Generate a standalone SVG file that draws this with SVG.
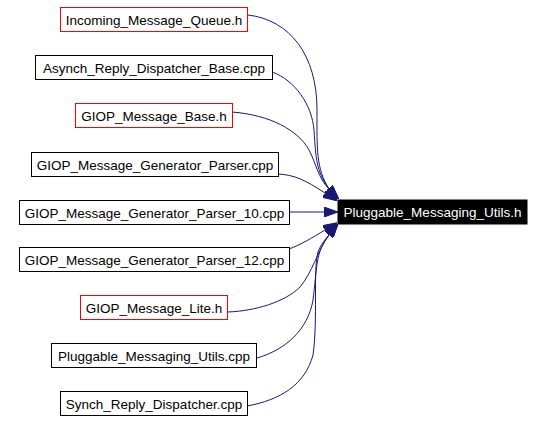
<svg xmlns="http://www.w3.org/2000/svg" width="544" height="422" viewBox="0 0 544 422">
<style>
  .box { fill: #ffffff; stroke: #000000; stroke-width: 1; }
  .red { stroke: #ff0000; }
  .lbl { font-family: "Liberation Sans", Arial, Helvetica, sans-serif; font-size: 13.5px; fill: #000000; text-anchor: middle; }
  .edge { fill: none; stroke: #191970; stroke-width: 1; marker-end: url(#arr); }
  .target { fill: #000000; stroke: #000000; }
  .tlbl { fill: #ffffff; }
</style>
<defs>
  <marker id="arr" markerUnits="userSpaceOnUse" markerWidth="14" markerHeight="10" viewBox="0 0 14 10" refX="0" refY="5" orient="auto">
    <path d="M0,0 L14,5 L0,10 z" fill="#191970" stroke="#191970"/>
  </marker>
</defs>
<rect width="544" height="422" fill="#ffffff"/>
<g id="connectors">
  <path class="edge" d="M248,15 C290,20 317,55 317,110 C317,150 316,168 329,189"/>
  <path class="edge" d="M272,72 C295,80 312,105 314,130 C316,160 316,170 329,189"/>
  <path class="edge" d="M232,112 C270,115 298,130 309,150 C316,163 318,178 329,189"/>
  <path class="edge" d="M278,174 C295,175 305,180 325,193"/>
  <path class="edge" d="M289,212 L324,212"/>
  <path class="edge" d="M289,249 C300,245 312,238 325,230"/>
  <path class="edge" d="M228,312 C255,311 285,302 300,287 C312,273 318,250 329,235"/>
  <path class="edge" d="M257,358 C285,350 308,330 313,300 C317,270 315,252 329,235"/>
  <path class="edge" d="M247,406 C280,400 305,385 313,355 C318,320 313,270 318,252 C321,244 325,240 329,235"/>
</g>
<g id="node-target">
  <rect class="target" x="338" y="200" width="189" height="24"/>
  <text class="lbl tlbl" x="432.5" y="217">Pluggable_Messaging_Utils.h</text>
</g>
<g id="node-incoming">
  <rect class="box red" x="60.5" y="7.5" width="187" height="24"/>
  <text class="lbl" x="154" y="24.5">Incoming_Message_Queue.h</text>
</g>
<g id="node-asynch">
  <rect class="box" x="35.5" y="55.5" width="237" height="24"/>
  <text class="lbl" x="154" y="72.5">Asynch_Reply_Dispatcher_Base.cpp</text>
</g>
<g id="node-giop-base">
  <rect class="box red" x="75.5" y="103.5" width="157" height="24"/>
  <text class="lbl" x="154" y="120.5">GIOP_Message_Base.h</text>
</g>
<g id="node-gen-parser">
  <rect class="box" x="31.5" y="152.5" width="247" height="24"/>
  <text class="lbl" x="155" y="169.5">GIOP_Message_Generator_Parser.cpp</text>
</g>
<g id="node-gen-parser-10">
  <rect class="box" x="19.5" y="200.5" width="270" height="24"/>
  <text class="lbl" x="154.5" y="217.5">GIOP_Message_Generator_Parser_10.cpp</text>
</g>
<g id="node-gen-parser-12">
  <rect class="box" x="19.5" y="247.5" width="270" height="24"/>
  <text class="lbl" x="154.5" y="264.5">GIOP_Message_Generator_Parser_12.cpp</text>
</g>
<g id="node-giop-lite">
  <rect class="box red" x="80.5" y="295.5" width="147" height="24"/>
  <text class="lbl" x="154" y="312.5">GIOP_Message_Lite.h</text>
</g>
<g id="node-pmu-cpp">
  <rect class="box" x="51.5" y="343.5" width="205" height="24"/>
  <text class="lbl" x="154" y="360.5">Pluggable_Messaging_Utils.cpp</text>
</g>
<g id="node-synch">
  <rect class="box" x="60.5" y="391.5" width="187" height="24"/>
  <text class="lbl" x="154" y="408.5">Synch_Reply_Dispatcher.cpp</text>
</g>
</svg>
